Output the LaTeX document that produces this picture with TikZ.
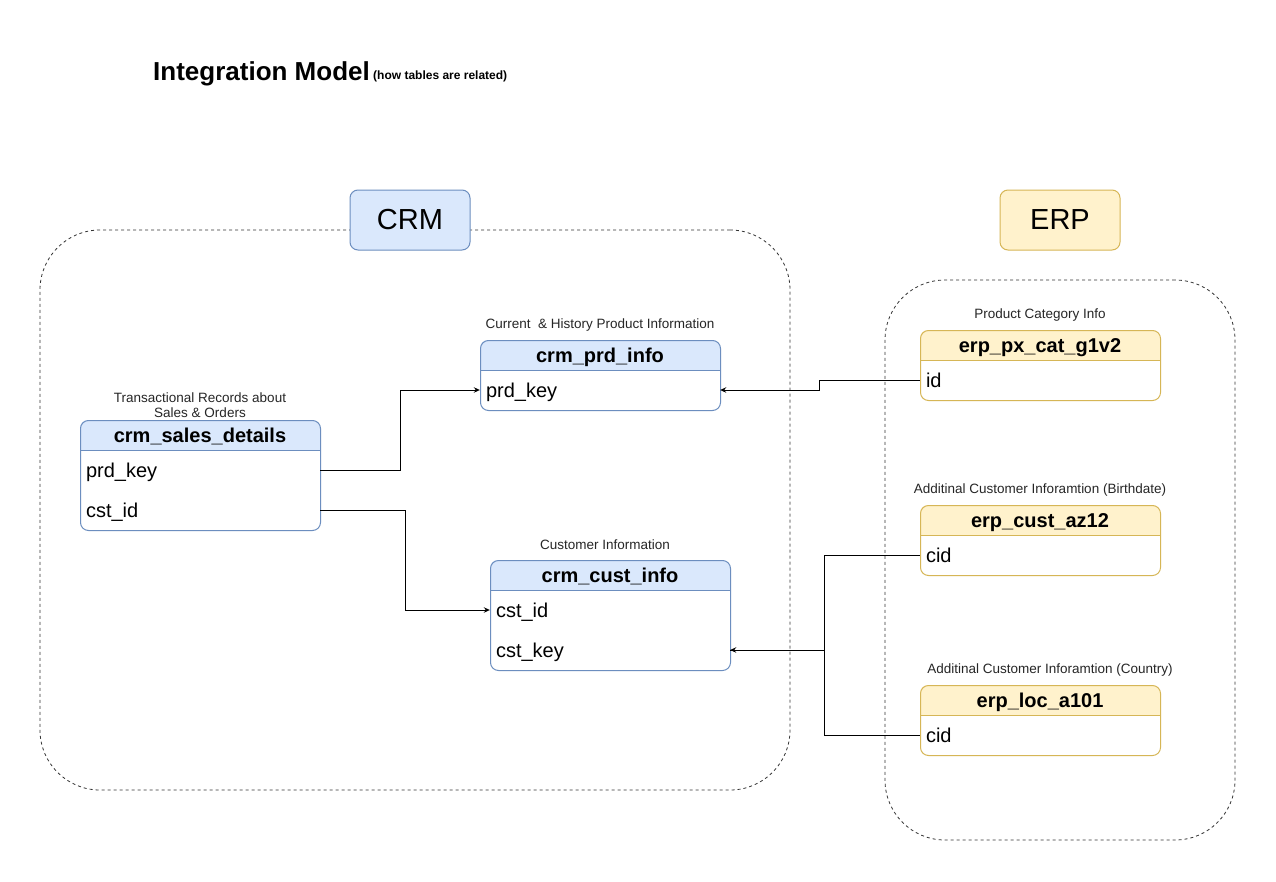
\documentclass[tikz,border=0pt]{standalone}
\usepackage{fontspec}
\setmainfont{Liberation Sans}
\usetikzlibrary{arrows.meta}

\definecolor{crmfill}{HTML}{DAE8FC}
\definecolor{crmline}{HTML}{6C8EBF}
\definecolor{erpfill}{HTML}{FFF2CC}
\definecolor{erpline}{HTML}{D6B656}

\newcommand{\fsz}[1]{\fontsize{#1}{#1}\selectfont}

\tikzset{
  container/.style={draw=black!80, dash pattern=on 3pt off 3pt, rounded corners=60pt, line width=0.8pt},
  labelbox/.style={draw=#1line, fill=#1fill, rounded corners=8pt, line width=1pt, minimum width=120pt, minimum height=60pt, font=\fsz{29}},
  outline/.style={draw=#1line, rounded corners=8pt, minimum width=240pt, anchor=north west, line width=1pt},
  headtext/.style={font=\bfseries\fsz{20}, inner sep=0pt, text height=19.5pt, text depth=4.2pt},
  rowcell/.style={minimum height=40pt, text width=228pt, inner xsep=6pt, inner ysep=0pt, align=left, font=\fsz{20}, text height=19.5pt, text depth=4.2pt},
  caption/.style={font=\fsz{13.5}, text=black!85, align=center, inner sep=0pt},
  link/.style={draw=black, line width=1pt, -{Stealth[length=6pt,width=5.5pt,inset=2pt]}},
  plain link/.style={draw=black, line width=1pt}
}

% table frame: name, left x, top y, bottom y, title, colour prefix
\newcommand{\dbtable}[6]{%
  \begin{scope}
    \clip (#2,#3) rectangle ++(240,30);
    \fill[#6fill, rounded corners=8pt] (#2,#3) rectangle (#2+240,#4);
  \end{scope}
  \draw[#6line, line width=1pt] (#2,#3+30) -- ++(240,0);
  \node[outline=#6, minimum height=#4-#3] (#1) at (#2,#3) {};
  \node[headtext] (#1-head) at (#2+120,#3+15) {#5};
}

\begin{document}
\begin{tikzpicture}[x=1pt, y=-1pt]
  \useasboundingbox[fill=white] (0,0) rectangle (1276,881);

  % title
  \node[anchor=base west, inner sep=0pt, font=\bfseries\fsz{26}] (title) at (153,80) {Integration Model};
  \node[anchor=base west, inner sep=0pt, font=\bfseries\fsz{12}] (subtitle) at (373,79) {(how tables are related)};

  % system areas
  \node[container, minimum width=750pt, minimum height=560pt] (crmarea) at (415,510) {};
  \node[container, minimum width=350pt, minimum height=560pt] (erparea) at (1060,560) {};
  \node[labelbox=crm] (crmlabel) at (410,220) {CRM};
  \node[labelbox=erp] (erplabel) at (1060,220) {ERP};

  % CRM tables
  \node[caption] (salescap) at (200,405) {Transactional Records about\\[2pt]Sales \& Orders};
  \dbtable{sales}{80}{420}{530}{crm\_sales\_details}{crm}
  \node[rowcell] (salesprd) at (200,470) {prd\_key};
  \node[rowcell] (salescst) at (200,510) {cst\_id};

  \node[caption] (prdcap) at (600,325) {Current~~\& History Product Information};
  \dbtable{prd}{480}{340}{410}{crm\_prd\_info}{crm}
  \node[rowcell] (prdkey) at (600,390) {prd\_key};

  \node[caption] (custcap) at (605,545) {Customer Information};
  \dbtable{cust}{490}{560}{670}{crm\_cust\_info}{crm}
  \node[rowcell] (custid) at (610,610) {cst\_id};
  \node[rowcell] (custkey) at (610,650) {cst\_key};

  % ERP tables
  \node[caption] (pxcap) at (1040,315) {Product Category Info};
  \dbtable{px}{920}{330}{400}{erp\_px\_cat\_g1v2}{erp}
  \node[rowcell] (pxid) at (1040,380) {id};

  \node[caption] (azcap) at (1040,490) {Additinal Customer Inforamtion (Birthdate)};
  \dbtable{az}{920}{505}{575}{erp\_cust\_az12}{erp}
  \node[rowcell] (azcid) at (1040,555) {cid};

  \node[caption] (loccap) at (1050,670) {Additinal Customer Inforamtion (Country)};
  \dbtable{loc}{920}{685}{755}{erp\_loc\_a101}{erp}
  \node[rowcell] (loccid) at (1040,735) {cid};

  % relations
  \draw[link] (salesprd.east) -- ++(80,0) |- (prdkey.west);
  \draw[link] (salescst.east) -- ++(85,0) |- (custid.west);
  \draw[link] (pxid.west) -- ++(-100,0) |- (prdkey.east);
  \draw[link] (azcid.west) -- ++(-95,0) |- (custkey.east);
  \draw[plain link] (loccid.west) -- ++(-95,0) |- (custkey.east);
\end{tikzpicture}
\end{document}
